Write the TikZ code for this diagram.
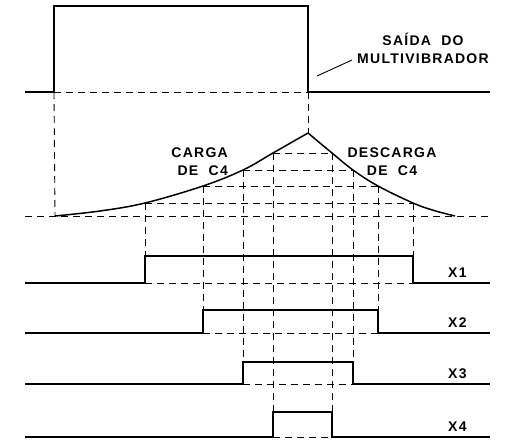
\documentclass[tikz,border=0pt]{standalone}
\usepackage{fontspec}
\newfontfamily\lblfont[LetterSpace=9]{Liberation Sans}

\tikzset{
  % ----- solid waveforms
  sig/.style = {line width=1.5pt, line join=miter},
  % ----- projection lines
  guide/.style = {line width=0.9pt, dash pattern=on 7pt off 5pt},
  lbl/.style = {font=\lblfont\bfseries\fontsize{14}{18}\selectfont, inner sep=0pt}
}

\begin{document}
\begin{tikzpicture}[x=1pt, y=-1pt]
        \useasboundingbox (0,0) rectangle (520,442);

        % multivibrator output
        \coordinate (up) at (54,92);
        \coordinate (dn) at (308,92);
        \draw[sig] (25,92) -- (up) -- (54,6) -- (308,6) -- (dn) -- (490,92);
        \draw[guide] (up) -- (dn);
        \node[lbl, align=center] (saida) at (423,48) {SAÍDA\ \ DO\\MULTIVIBRADOR};
        \coordinate (tip) at (317,76);
        \draw[line width=0.9pt] (tip) -- (352,60);

        % C4 voltage
        \coordinate (c0) at (55,216);
        \coordinate (pk) at (308,133);
        \coordinate (d0) at (455,216);
        \draw[guide] (25,216) -- (490,216);
        \draw[guide] (up) -- (c0);
        \draw[guide] (dn) -- (pk);
        \draw[sig] plot[smooth, tension=0.6] coordinates
            {(c0) (100,211) (145,203) (203,186) (243,170) (273,153) (pk)};
        \draw[sig] plot[smooth, tension=0.6] coordinates
            {(pk) (332,153) (353,170) (378,186) (413,203) (434,210.5) (d0)};
        \node[lbl, align=right, anchor=east] (carga) at (228,162) {CARGA\\DE\ \ C4};
        \node[lbl, align=center] (descarga) at (392,162) {DESCARGA\\DE\ \ C4};

        % comparator outputs X1..X4
        \foreach \n/\xa/\xb/\lv/\lo/\hi in {1/145/413/203/283/256,
                                             2/203/378/186/333/310,
                                             3/243/353/170/384/362,
                                             4/273/332/153/437/412}{
            \coordinate (L\n) at (\xa,\lv);
            \coordinate (R\n) at (\xb,\lv);
            \coordinate (A\n) at (\xa,\lo);
            \coordinate (B\n) at (\xb,\lo);
            \draw[guide] (L\n) -- (R\n);
            \draw[guide] (L\n) -- (A\n);
            \draw[guide] (R\n) -- (B\n);
            \draw[guide] (A\n) -- (B\n);
            \draw[sig] (25,\lo) -- (A\n) -- (\xa,\hi) -- (\xb,\hi) -- (B\n) -- (490,\lo);
            \node[lbl, anchor=west] (X\n) at (448,\lo-10) {X\n};
        }
\end{tikzpicture}
\end{document}
